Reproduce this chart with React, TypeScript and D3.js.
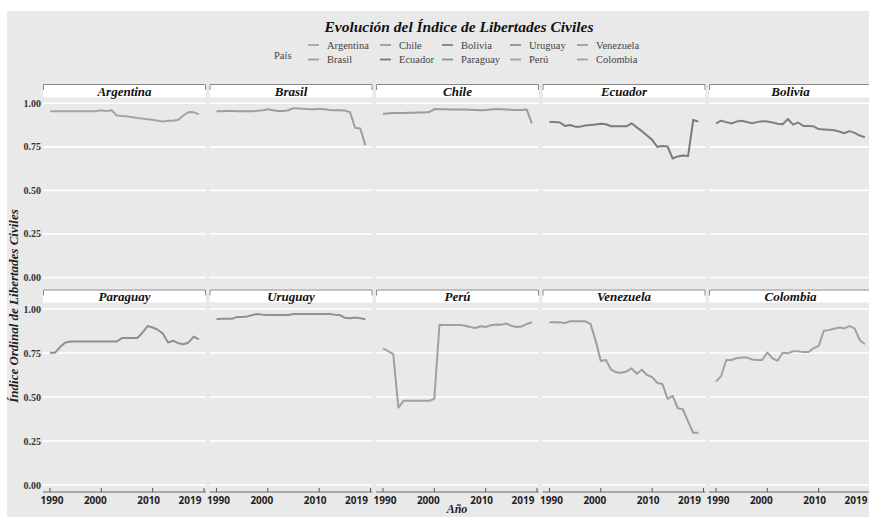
import React from "react";
import * as d3 from "d3";

// datos (1990-2019)
const years = [
  1990, 1991, 1992, 1993, 1994, 1995, 1996, 1997, 1998, 1999,
  2000, 2001, 2002, 2003, 2004, 2005, 2006, 2007, 2008, 2009,
  2010, 2011, 2012, 2013, 2014, 2015, 2016, 2017, 2018, 2019,
];

const argentina = [0.955, 0.955, 0.955, 0.955, 0.955, 0.955, 0.955, 0.955, 0.955, 0.955, 0.96, 0.955, 0.96, 0.93, 0.927, 0.925, 0.92, 0.915, 0.912, 0.908, 0.905, 0.9, 0.895, 0.9, 0.9, 0.905, 0.93, 0.95, 0.948, 0.938];
const brasil = [0.955, 0.955, 0.956, 0.956, 0.955, 0.955, 0.955, 0.955, 0.957, 0.96, 0.966, 0.96, 0.956, 0.956, 0.96, 0.972, 0.97, 0.968, 0.966, 0.966, 0.968, 0.966, 0.962, 0.96, 0.96, 0.958, 0.95, 0.86, 0.855, 0.76];
const chile = [0.94, 0.942, 0.944, 0.945, 0.945, 0.946, 0.946, 0.947, 0.947, 0.95, 0.967, 0.966, 0.966, 0.965, 0.965, 0.965, 0.965, 0.963, 0.962, 0.96, 0.962, 0.965, 0.967, 0.966, 0.965, 0.963, 0.962, 0.962, 0.964, 0.885];
const ecuador = [0.893, 0.893, 0.89, 0.87, 0.875, 0.866, 0.866, 0.872, 0.875, 0.878, 0.882, 0.88, 0.868, 0.868, 0.868, 0.868, 0.885, 0.862, 0.84, 0.815, 0.79, 0.75, 0.755, 0.752, 0.683, 0.695, 0.7, 0.698, 0.905, 0.895];
const bolivia = [0.885, 0.9, 0.892, 0.884, 0.895, 0.9, 0.893, 0.886, 0.892, 0.897, 0.895, 0.89, 0.883, 0.88, 0.91, 0.878, 0.89, 0.87, 0.87, 0.868, 0.852, 0.85, 0.848, 0.845, 0.838, 0.828, 0.84, 0.83, 0.815, 0.805];
const paraguay = [0.752, 0.752, 0.785, 0.81, 0.815, 0.815, 0.815, 0.815, 0.815, 0.815, 0.815, 0.815, 0.815, 0.815, 0.835, 0.835, 0.835, 0.835, 0.865, 0.903, 0.895, 0.882, 0.86, 0.81, 0.82, 0.805, 0.8, 0.81, 0.843, 0.828];
const uruguay = [0.942, 0.944, 0.944, 0.944, 0.955, 0.955, 0.958, 0.966, 0.972, 0.968, 0.966, 0.966, 0.966, 0.966, 0.966, 0.971, 0.972, 0.972, 0.972, 0.972, 0.972, 0.972, 0.972, 0.968, 0.966, 0.95, 0.947, 0.952, 0.947, 0.942];
const peru = [0.777, 0.76, 0.744, 0.44, 0.478, 0.478, 0.478, 0.478, 0.478, 0.478, 0.49, 0.909, 0.909, 0.909, 0.909, 0.909, 0.905, 0.898, 0.892, 0.902, 0.898, 0.908, 0.912, 0.91, 0.918, 0.905, 0.898, 0.9, 0.915, 0.925];
const venezuela = [0.925, 0.925, 0.924, 0.92, 0.93, 0.93, 0.93, 0.93, 0.915, 0.82, 0.705, 0.71, 0.655, 0.64, 0.638, 0.645, 0.663, 0.632, 0.655, 0.625, 0.613, 0.58, 0.574, 0.49, 0.506, 0.436, 0.43, 0.36, 0.297, 0.297];
const colombia = [0.587, 0.619, 0.71, 0.71, 0.72, 0.725, 0.725, 0.713, 0.71, 0.71, 0.752, 0.72, 0.706, 0.752, 0.748, 0.76, 0.76, 0.755, 0.755, 0.777, 0.79, 0.877, 0.88, 0.888, 0.895, 0.89, 0.903, 0.89, 0.824, 0.8];

// orden de los paneles (fila por fila)
const panels = ["Argentina", "Brasil", "Chile", "Ecuador", "Bolivia", "Paraguay", "Uruguay", "Perú", "Venezuela", "Colombia"];
const series = [argentina, brasil, chile, ecuador, bolivia, paraguay, uruguay, peru, venezuela, colombia];
const colors = ["#a8a39e", "#a29d98", "#a09c97", "#7b7c79", "#80817e", "#8a9291", "#8c9292", "#a29ea3", "#a09ca2", "#a69fa3"];

// leyenda: orden por columnas
const legendOrder = ["Argentina", "Brasil", "Chile", "Ecuador", "Bolivia", "Paraguay", "Uruguay", "Perú", "Venezuela", "Colombia"];

const yTicks = [0, 0.25, 0.5, 0.75, 1];
const yTickLabels = ["0.00", "0.25", "0.50", "0.75", "1.00"];
const xTicks = [1990, 2000, 2010, 2020];
const xTickLabels = ["1990", "2000", "2010", "2019"];
const xLabelShift = [2, -6, -4, -14];

const serif = "'Liberation Serif', 'Times New Roman', serif";
const sans = "'Open Sans', 'DejaVu Sans', sans-serif";

const panelW = 163;
const panelStep = 166.5;
const panelLeft0 = 43;
const rows = [
  { stripTop: 84, stripBottom: 97.5, y0: 277.5, y1: 103.3 },
  { stripTop: 289.5, stripBottom: 302.5, y0: 485, y1: 309 },
];

export default function App() {
  const x = d3.scaleLinear().domain([1988.64, 2020.39]).range([0, panelW]);

  const legendColX = [308, 380, 442, 510, 577];
  const legendRowY = [48.5, 63];

  return (
    <svg width={869} height={517} style={{ position: "absolute", left: 0, top: 0 }}>
      <rect x={0} y={0} width={869} height={517} fill="#ffffff" />
      <rect x={7} y={11} width={862} height={506} fill="#e9e9e9" />

      <text x={459} y={32} textAnchor="middle" fontFamily={serif} fontWeight="bold" fontStyle="italic" fontSize={15.5} fill="#111">
        Evolución del Índice de Libertades Civiles
      </text>

      {/* leyenda */}
      <text x={274} y={58.5} fontFamily={serif} fontSize={10.5} fill="#444">País</text>
      {legendOrder.map((name, i) => {
        const col = Math.floor(i / 2);
        const row = i % 2;
        const idx = panels.indexOf(name);
        const lx = legendColX[col];
        const ly = legendRowY[row];
        return (
          <g key={name}>
            <line x1={lx} x2={lx + 11} y1={ly - 3.5} y2={ly - 3.5} stroke={colors[idx]} strokeWidth={1.8} />
            <text x={lx + 19} y={ly} fontFamily={serif} fontSize={10.5} fill="#444">{name}</text>
          </g>
        );
      })}

      {panels.map((name, i) => {
        const r = Math.floor(i / 5);
        const c = i % 5;
        const row = rows[r];
        const left = panelLeft0 + c * panelStep;
        const y = d3.scaleLinear().domain([0, 1]).range([row.y0, row.y1]);
        const line = d3
          .line<number>()
          .x((_, k) => x(years[k]))
          .y((d) => y(d));
        return (
          <g key={name}>
            <g transform={`translate(${left},0)`}>
              {yTicks.map((t) => (
                <line key={t} x1={0} x2={panelW} y1={y(t)} y2={y(t)} stroke="#ffffff" strokeWidth={1.6} />
              ))}
              <path d={line(series[i]) || ""} fill="none" stroke={colors[i]} strokeWidth={2} strokeLinejoin="round" />
              {/* strip */}
              <rect x={0} y={row.stripTop} width={panelW} height={row.stripBottom - row.stripTop} fill="#ffffff" />
              <path
                d={`M0.5,${row.stripTop + 6}V${row.stripTop + 0.5}H${panelW - 0.5}V${row.stripTop + 6}`}
                fill="none"
                stroke="#8a8a8a"
                strokeWidth={1}
              />
              <text
                x={panelW / 2}
                y={row.stripBottom - 2}
                textAnchor="middle"
                fontFamily={serif}
                fontWeight="bold"
                fontStyle="italic"
                fontSize={13}
                fill="#111"
              >
                {name}
              </text>
              {r === 1 && (
                <g>
                  <line x1={0} x2={panelW} y1={492} y2={492} stroke="#666" strokeWidth={1} />
                  {xTicks.map((t, k) => (
                    <g key={t}>
                      <line x1={x(t)} x2={x(t)} y1={488} y2={492} stroke="#555" strokeWidth={1} />
                      <text
                        x={x(t) + xLabelShift[k]}
                        y={504}
                        textAnchor="middle"
                        fontFamily={sans}
                        fontWeight="bold"
                        fontSize={10}
                        fill="#222"
                      >
                        {xTickLabels[k]}
                      </text>
                    </g>
                  ))}
                </g>
              )}
            </g>
            {c === 0 &&
              yTicks.map((t, k) => (
                <text key={t} x={41} y={y(t) + 3.5} textAnchor="end" fontFamily={serif} fontWeight="bold" fontSize={10} fill="#333">
                  {yTickLabels[k]}
                </text>
              ))}
          </g>
        );
      })}

      <text
        transform="translate(18,306) rotate(-90)"
        textAnchor="middle"
        fontFamily={serif}
        fontWeight="bold"
        fontStyle="italic"
        fontSize={13}
        fill="#222"
      >
        Índice Ordinal de Libertades Civiles
      </text>
      <text x={457} y={513} textAnchor="middle" fontFamily={serif} fontWeight="bold" fontStyle="italic" fontSize={12} fill="#222">
        Año
      </text>
    </svg>
  );
}
